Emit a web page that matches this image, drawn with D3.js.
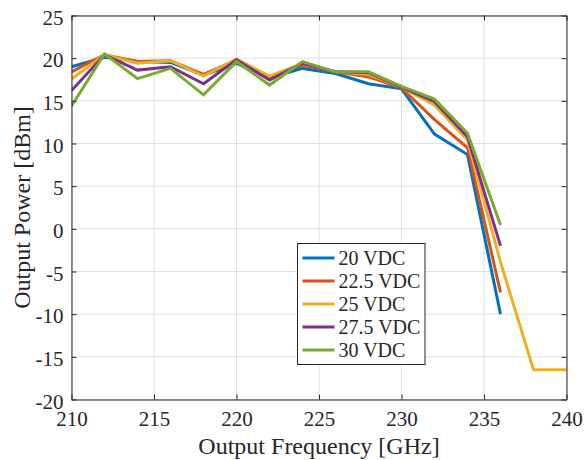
<!DOCTYPE html>
<html>
<head>
<meta charset="utf-8">
<script src="https://cdn.jsdelivr.net/npm/d3@7"></script>
<style>
  html, body { margin: 0; padding: 0; background: #fff; }
  svg { display: block; }
  svg text { font-family: "Liberation Serif", "Times New Roman", serif !important; }
</style>
</head>
<body>
<svg id="chart" width="584" height="460" font-family="Liberation Serif"></svg>
<script>
// ---- data ----
const freq = [210, 212, 214, 216, 218, 220, 222, 224, 226, 228, 230, 232, 234, 236];
const freq25 = [210, 212, 214, 216, 218, 220, 222, 224, 226, 228, 230, 232, 234, 236, 238, 240];
const v20   = [19.0, 20.1, 19.6, 19.5, 18.0, 19.4, 17.7, 18.8, 18.2, 17.0, 16.4, 11.1, 8.7, -10.0];
const v22_5 = [18.4, 20.4, 19.6, 19.7, 18.1, 19.8, 17.8, 19.2, 18.4, 17.8, 16.5, 12.8, 9.5, -7.45];
const v25   = [17.55, 20.4, 19.4, 19.7, 17.9, 19.9, 17.9, 19.4, 18.4, 18.1, 16.6, 14.5, 10.4, -3.9, -16.5, -16.5];
const v27_5 = [16.2, 20.4, 18.6, 19.0, 17.0, 19.8, 17.45, 19.4, 18.4, 18.3, 16.6, 14.9, 10.8, -2.0];
const v30   = [14.4, 20.5, 17.6, 18.8, 15.7, 19.6, 16.85, 19.6, 18.4, 18.4, 16.7, 15.2, 11.2, 0.45];
const seriesNames = ["20 VDC", "22.5 VDC", "25 VDC", "27.5 VDC", "30 VDC"];
const xTicks = [210, 215, 220, 225, 230, 235, 240];
const yTicks = [-20, -15, -10, -5, 0, 5, 10, 15, 20, 25];

const series = [
  { name: seriesNames[0], x: freq,   y: v20,   color: "#0072BD" },
  { name: seriesNames[1], x: freq,   y: v22_5, color: "#D95319" },
  { name: seriesNames[2], x: freq25, y: v25,   color: "#EDB120" },
  { name: seriesNames[3], x: freq,   y: v27_5, color: "#7E2F8E" },
  { name: seriesNames[4], x: freq,   y: v30,   color: "#77AC30" }
];

const FONT = "'Liberation Serif', 'Times New Roman', serif";
const fmt = d => String(d).replace("\u2212", "-");

// ---- layout ----
const L = 71.5, R = 566.5, T = 15.5, B = 399.5;
const svg = d3.select("#chart");
const x = d3.scaleLinear().domain([210, 240]).range([L, R]);
const y = d3.scaleLinear().domain([-20, 25]).range([B, T]);

// grid
const g = svg.append("g");
g.selectAll("line.gx").data(xTicks).enter().append("line")
  .attr("x1", d => x(d)).attr("x2", d => x(d)).attr("y1", T).attr("y2", B)
  .attr("stroke", "#dfdfdf").attr("stroke-width", 1);
g.selectAll("line.gy").data(yTicks).enter().append("line")
  .attr("x1", L).attr("x2", R).attr("y1", d => y(d)).attr("y2", d => y(d))
  .attr("stroke", "#dfdfdf").attr("stroke-width", 1);

// clip
svg.append("clipPath").attr("id", "clip").append("rect")
  .attr("x", L).attr("y", T).attr("width", R - L).attr("height", B - T);

const line = d3.line().x(d => x(d[0])).y(d => y(d[1]));
const lg = svg.append("g").attr("clip-path", "url(#clip)");
series.forEach(s => {
  lg.append("path")
    .datum(s.x.map((xv, i) => [xv, s.y[i]]))
    .attr("d", line)
    .attr("fill", "none")
    .attr("stroke", s.color)
    .attr("stroke-width", 3)
    .attr("stroke-linejoin", "miter");
});

// axes (MATLAB style: ticks inward, box)
const tl = 5;
const axBottom = d3.axisBottom(x).tickValues(xTicks).tickSizeInner(-tl).tickSizeOuter(0).tickPadding(12).tickFormat(fmt);
const axTop = d3.axisTop(x).tickValues(xTicks).tickSizeInner(-tl).tickSizeOuter(0).tickFormat("");
const axLeft = d3.axisLeft(y).tickValues(yTicks).tickSizeInner(-tl).tickSizeOuter(0).tickPadding(8).tickFormat(fmt);
const axRight = d3.axisRight(y).tickValues(yTicks).tickSizeInner(-tl).tickSizeOuter(0).tickFormat("");

function styleAxis(sel) {
  sel.attr("font-family", FONT).attr("font-size", 21);
  sel.selectAll("path.domain").attr("stroke", "#262626").attr("stroke-width", 1);
  sel.selectAll(".tick line").attr("stroke", "#262626").attr("stroke-width", 1);
  sel.selectAll(".tick text").style("font-family", FONT).style("font-size", "21px").attr("fill", "#262626");
}
styleAxis(svg.append("g").attr("transform", `translate(0,${B})`).call(axBottom));
styleAxis(svg.append("g").attr("transform", `translate(0,${T})`).call(axTop));
const leftG = svg.append("g").attr("transform", `translate(${L},0)`).call(axLeft);
styleAxis(leftG);
leftG.selectAll(".tick text").attr("dy", "0.42em");
styleAxis(svg.append("g").attr("transform", `translate(${R},0)`).call(axRight));

// axis titles
svg.append("text")
  .attr("x", (L + R) / 2).attr("y", 454)
  .attr("text-anchor", "middle")
  .style("font-family", FONT).style("font-size", "24px").attr("fill", "#262626")
  .text("Output Frequency [GHz]");
svg.append("text")
  .attr("transform", `translate(30,${(T + B) / 2}) rotate(-90)`)
  .attr("text-anchor", "middle")
  .style("font-family", FONT).style("font-size", "24px").attr("fill", "#262626")
  .text("Output Power [dBm]");

// legend
const lgX = 297.5, lgY = 243.5, lgW = 127.5, lgH = 121;
const leg = svg.append("g");
leg.append("rect").attr("x", lgX).attr("y", lgY).attr("width", lgW).attr("height", lgH)
  .attr("fill", "#fff").attr("stroke", "#262626").attr("stroke-width", 1);
series.forEach((s, i) => {
  const cy = lgY + 14.5 + i * 23;
  leg.append("line").attr("x1", lgX + 5).attr("x2", lgX + 37).attr("y1", cy).attr("y2", cy)
    .attr("stroke", s.color).attr("stroke-width", 3);
  leg.append("text").attr("x", lgX + 41).attr("y", cy).attr("dy", "0.35em")
    .style("font-family", FONT).style("font-size", "20px").attr("fill", "#262626")
    .text(s.name);
});
</script>
</body>
</html>
